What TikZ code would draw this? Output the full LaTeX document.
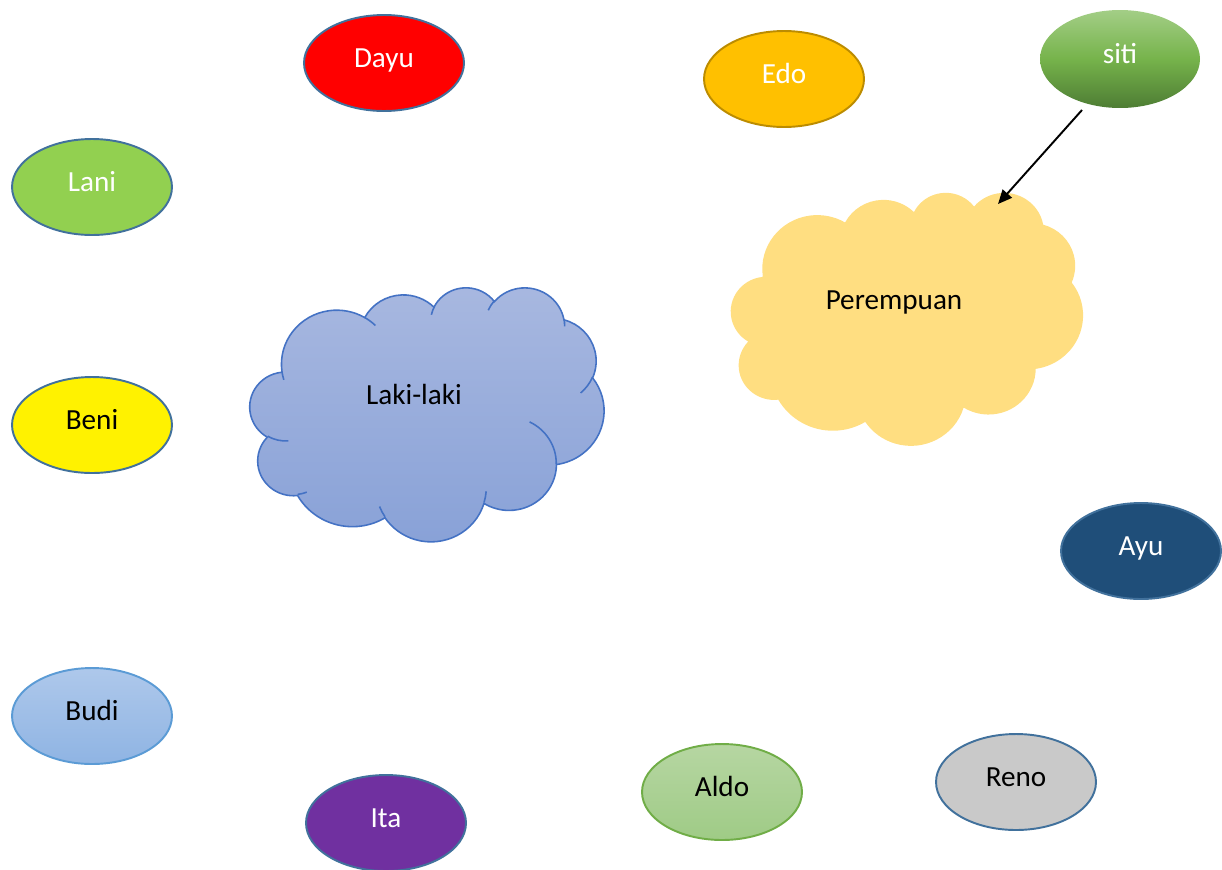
\documentclass[tikz,border=0pt]{standalone}
\usepackage{fontspec}
\setmainfont{Carlito}
\usetikzlibrary{shapes.geometric,arrows.meta}
\definecolor{bord}{HTML}{41719C}
\definecolor{bordlight}{HTML}{5B9BD5}
\definecolor{edofill}{HTML}{FFC000}
\definecolor{edobord}{HTML}{BC8C00}
\definecolor{lanifill}{HTML}{92D050}
\definecolor{itafill}{HTML}{7030A0}
\definecolor{ayufill}{HTML}{1F4E79}
\definecolor{renofill}{HTML}{C9C9C9}
\definecolor{aldobord}{HTML}{70AD47}
\definecolor{aldotop}{HTML}{B6D6A2}
\definecolor{aldobot}{HTML}{9FCB86}
\definecolor{buditop}{HTML}{AEC8EB}
\definecolor{budibot}{HTML}{8FB4E3}
\definecolor{sititop}{HTML}{A3CE86}
\definecolor{sitimid}{HTML}{76B34B}
\definecolor{sitibot}{HTML}{4E7D34}
\definecolor{lakitop}{HTML}{A8B8E0}
\definecolor{lakibot}{HTML}{88A1D7}
\definecolor{lakibord}{HTML}{4472C4}
\definecolor{perfill}{HTML}{FFDE81}
% Word "cloud" preset outline, built from arcTo segments (visual angles)
\def\cloudout{}
\def\cloudin{}
\newcommand\ooarc[4]{%
  \pgfmathsetmacro\oots{atan2(#1*sin(#3),#2*cos(#3))}%
  \pgfmathsetmacro\oote{atan2(#1*sin(#3+#4),#2*cos(#3+#4))}%
  \pgfmathsetmacro\oodt{mod(\oote-\oots+720,360)}%
  \xdef\cloudout{\cloudout arc[x radius=#1,y radius=#2,start angle=\oots,delta angle=\oodt]}}
\newcommand\ooin[6]{%
  \pgfmathsetmacro\oots{atan2(#3*sin(#5),#4*cos(#5))}%
  \pgfmathsetmacro\oote{atan2(#3*sin(#5+#6),#4*cos(#5+#6))}%
  \pgfmathsetmacro\oodt{mod(\oote-\oots+720,360)}%
  \xdef\cloudin{\cloudin (#1,#2) arc[x radius=#3,y radius=#4,start angle=\oots,delta angle=\oodt]}}
\ooarc{6.753}{9.190}{-190.48749}{123.78053}
\ooarc{5.333}{7.267}{-144.10238}{89.94523}
\ooarc{4.365}{5.945}{-145.80792}{99.72302}
\ooarc{4.857}{6.595}{-130.98607}{117.24173}
\ooarc{5.333}{7.273}{-78.70888}{109.02692}
\ooarc{6.775}{9.220}{-46.26725}{130.269}
\ooarc{5.785}{7.867}{0.62502}{114.03333}
\ooarc{6.752}{9.215}{22.4516}{115.17255}
\ooarc{7.720}{10.543}{66.24263}{75.71102}
\ooarc{4.360}{5.918}{-274.94208}{146.73557}
\ooarc{4.345}{5.945}{-246.8285}{152.51885}
\ooin{4.693}{26.177}{4.345}{5.945}{86.742}{26.4295}
\ooin{6.928}{34.899}{4.360}{5.918}{73.61047}{11.44747}
\ooin{16.478}{39.090}{6.752}{9.215}{137.62415}{14.0811}
\ooin{28.827}{34.751}{6.752}{9.215}{6.45327}{15.99835}
\ooin{34.129}{22.954}{5.785}{7.867}{-70.29235}{70.91737}
\ooin{41.798}{15.354}{5.333}{7.273}{30.31803}{27.7515}
\ooin{38.324}{5.426}{4.857}{6.595}{-13.74433}{14.8589}
\ooin{29.078}{3.952}{4.857}{6.595}{-149.18145}{18.19537}
\ooin{22.141}{4.720}{4.365}{5.945}{-163.49427}{17.68635}
\ooin{14.000}{5.192}{6.753}{9.190}{-66.70695}{12.31935}
\ooin{4.127}{15.789}{6.753}{9.190}{157.6535}{11.85817}
\tikzset{
  lbl/.style={font=\fontsize{16.6}{19}\selectfont, inner sep=0pt, text height=0.75em, text depth=0.2em},
  oval/.style={lbl, ellipse, minimum width=3.2cm, minimum height=1.92cm, line width=1.1pt},
  light/.style={text=white},
  link/.style={line width=1.1pt, -{Triangle[length=8pt,width=7pt]}},
}
\begin{document}
\begin{tikzpicture}[x=0.02cm,y=-0.02cm]
\useasboundingbox (0,0) rectangle (1222,869);
% clouds
\begin{scope}[shift={(250,287)}, x=0.16389cm, y=-0.11759cm]
  \path[top color=lakitop, bottom color=lakibot, draw=lakibord, line width=0.9pt] (3.9,14.37) \cloudout -- cycle;
  \path[draw=lakibord, line width=0.9pt] \cloudin;
\end{scope}
\begin{scope}[shift={(731,192)}, x=0.16296cm, y=-0.11713cm]
  \path[fill=perfill] (3.9,14.37) \cloudout -- cycle;
\end{scope}
\node[lbl] (laki) at (414,400) {Laki-laki};
\node[lbl] (perempuan) at (894,305) {Perempuan};
% ovals
\node[oval, fill=red, draw=bord, light] (dayu) at (384,63) {Dayu};
\node[oval, fill=edofill, draw=edobord, light] (edo) at (784,79) {Edo};
\node[oval, minimum height=1.96cm, top color=sititop, bottom color=sitibot, middle color=sitimid, light] (siti) at (1120,59) {siti};
\node[oval, fill=lanifill, draw=bord, light] (lani) at (92,187) {Lani};
\node[oval, fill=yellow, draw=bord] (beni) at (92,425) {Beni};
\node[oval, top color=buditop, bottom color=budibot, draw=bordlight] (budi) at (92,716) {Budi};
\node[oval, fill=itafill, draw=bord, light] (ita) at (386,823) {Ita};
\node[oval, top color=aldotop, bottom color=aldobot, draw=aldobord] (aldo) at (722,792) {Aldo};
\node[oval, fill=renofill, draw=bord] (reno) at (1016,782) {Reno};
\node[oval, fill=ayufill, draw=bord, light] (ayu) at (1141,551) {Ayu};
% arrow
\coordinate (sitiout) at (1082,110);
\coordinate (pertop) at (998,204);
\draw[link] (sitiout) -- (pertop);
\end{tikzpicture}
\end{document}
